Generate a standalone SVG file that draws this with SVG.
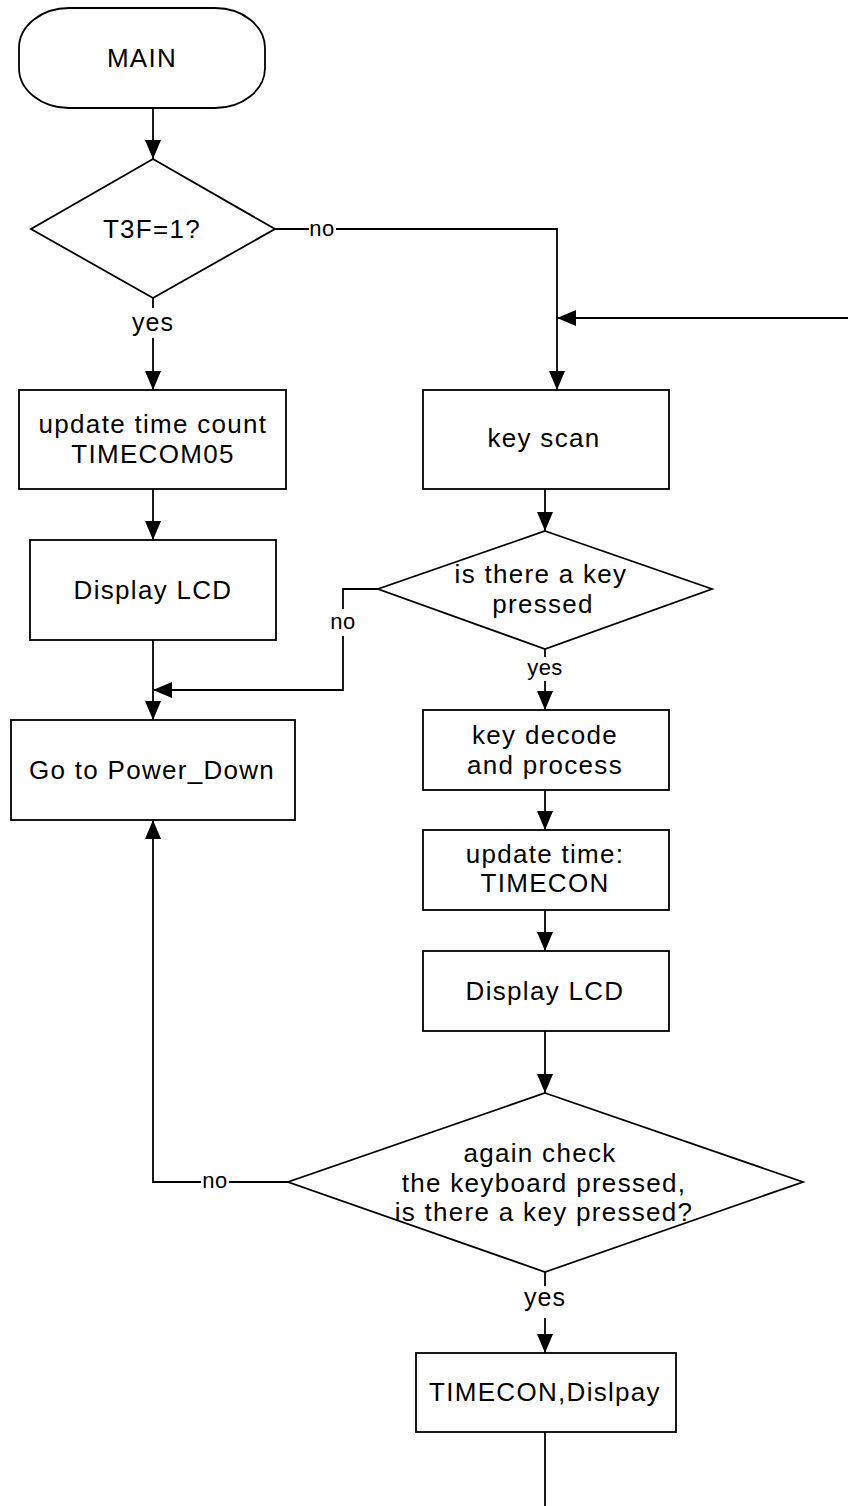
<svg xmlns="http://www.w3.org/2000/svg" width="848" height="1506" viewBox="0 0 848 1506">
<style>
.shape{fill:#fff;stroke:#000;stroke-width:1.8}
.conn{fill:none;stroke:#000;stroke-width:1.8}
.t{font-family:"Liberation Sans",Arial,sans-serif;font-size:26px;letter-spacing:1.3px;text-anchor:middle;fill:#000}
.lbl{font-family:"Liberation Sans",Arial,sans-serif;font-size:22px;letter-spacing:0.5px;text-anchor:middle;fill:#000}
.lbly{font-family:"Liberation Sans",Arial,sans-serif;font-size:25px;letter-spacing:1px;text-anchor:middle;fill:#000}
.bg{fill:#fff;stroke:none}
</style>
<defs>
<marker id="arr" viewBox="0 0 19 16" refX="19" refY="8" markerWidth="19" markerHeight="16" markerUnits="userSpaceOnUse" orient="auto">
<path d="M0,0 L19,8 L0,16 z" fill="#000"/>
</marker>
</defs>
<rect width="848" height="1506" fill="#fff"/>
<g id="connectors">
<path class="conn" d="M153,108 V159" marker-end="url(#arr)"/>
<path class="conn" d="M153,298 V390" marker-end="url(#arr)"/>
<path class="conn" d="M275,229 H557 V390" marker-end="url(#arr)"/>
<path class="conn" d="M848,318 H557" marker-end="url(#arr)"/>
<path class="conn" d="M153,489 V540" marker-end="url(#arr)"/>
<path class="conn" d="M153,640 V720" marker-end="url(#arr)"/>
<path class="conn" d="M378,589 H343 V690 H153" marker-end="url(#arr)"/>
<path class="conn" d="M545,489 V531" marker-end="url(#arr)"/>
<path class="conn" d="M545,649 V710" marker-end="url(#arr)"/>
<path class="conn" d="M545,790 V830" marker-end="url(#arr)"/>
<path class="conn" d="M545,910 V951" marker-end="url(#arr)"/>
<path class="conn" d="M545,1031 V1093" marker-end="url(#arr)"/>
<path class="conn" d="M288,1182 H153 V820" marker-end="url(#arr)"/>
<path class="conn" d="M545,1272 V1353" marker-end="url(#arr)"/>
<path class="conn" d="M545,1432 V1506"/>
<rect class="bg" x="309" y="220" width="27" height="20"/>
<text class="lbl" x="322" y="236">no</text>
<rect class="bg" x="130" y="308" width="46" height="30"/>
<text class="lbly" x="153" y="331">yes</text>
<rect class="bg" x="330" y="609" width="26" height="27"/>
<text class="lbl" x="343" y="629">no</text>
<rect class="bg" x="524" y="657" width="42" height="24"/>
<text class="lbl" x="545" y="675">yes</text>
<rect class="bg" x="201" y="1172" width="28" height="20"/>
<text class="lbl" x="215" y="1188">no</text>
<rect class="bg" x="522" y="1286" width="46" height="32"/>
<text class="lbly" x="545" y="1306">yes</text>
</g>
<g id="main">
<rect class="shape" x="19" y="8" width="246" height="100" rx="50" ry="40"/>
<text class="t" x="142" y="67">MAIN</text>
</g>
<g id="t3f">
<polygon class="shape" points="153,159 275,229 153,298 31,229"/>
<text class="t" x="152" y="238">T3F=1?</text>
</g>
<g id="update-count">
<rect class="shape" x="19" y="390" width="267" height="99"/>
<text class="t" x="153" y="433">update time count</text>
<text class="t" x="153" y="463">TIMECOM05</text>
</g>
<g id="display-left">
<rect class="shape" x="30" y="540" width="246" height="100"/>
<text class="t" x="153" y="599">Display LCD</text>
</g>
<g id="power-down">
<rect class="shape" x="11" y="720" width="284" height="100"/>
<text class="t" x="152" y="779">Go to Power_Down</text>
</g>
<g id="key-scan">
<rect class="shape" x="423" y="390" width="246" height="99"/>
<text class="t" x="544" y="447">key scan</text>
</g>
<g id="key-pressed">
<polygon class="shape" points="545,531 712,589 545,649 378,589"/>
<text class="t" x="541" y="583">is there a key</text>
<text class="t" x="543" y="613">pressed</text>
</g>
<g id="key-decode">
<rect class="shape" x="423" y="710" width="246" height="80"/>
<text class="t" x="545" y="744">key decode</text>
<text class="t" x="545" y="774">and process</text>
</g>
<g id="update-time">
<rect class="shape" x="423" y="830" width="246" height="80"/>
<text class="t" x="545" y="863">update time:</text>
<text class="t" x="545" y="892">TIMECON</text>
</g>
<g id="display-right">
<rect class="shape" x="423" y="951" width="246" height="80"/>
<text class="t" x="545" y="1000">Display LCD</text>
</g>
<g id="again-check">
<polygon class="shape" points="545,1093 803,1182 545,1272 288,1182"/>
<text class="t" x="540" y="1162">again check</text>
<text class="t" x="544" y="1192">the keyboard pressed,</text>
<text class="t" x="544" y="1221">is there a key pressed?</text>
</g>
<g id="timecon-display">
<rect class="shape" x="416" y="1353" width="260" height="79"/>
<text class="t" x="545" y="1401">TIMECON,Dislpay</text>
</g>
</svg>
